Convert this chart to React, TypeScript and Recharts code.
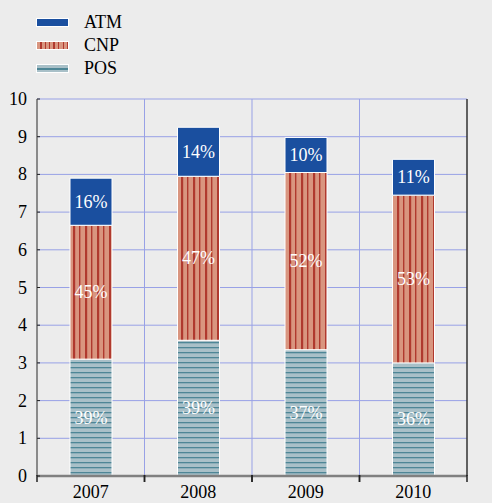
import { BarChart, Bar, XAxis, YAxis, CartesianGrid, LabelList } from "recharts";

const years = ["2007", "2008", "2009", "2010"];
const pos = [3.1, 3.6, 3.35, 3.0];
const cnp = [3.55, 4.35, 4.7, 4.45];
const atm = [1.25, 1.3, 0.93, 0.95];
const yTicks = [0, 1, 2, 3, 4, 5, 6, 7, 8, 9, 10];

const data = years.map((year, i) => ({ year, POS: pos[i], CNP: cnp[i], ATM: atm[i] }));
const totals = years.map((_, i) => pos[i] + cnp[i] + atm[i]);

const FONT = "'Liberation Serif', 'Times New Roman', serif";
const BG = "#ececec";
const GRID = "#98a1e6";

const series = [
  { key: "ATM", fill: "#1a4f9f", values: atm },
  { key: "CNP", fill: "url(#cnpFill)", values: cnp },
  { key: "POS", fill: "url(#posFill)", values: pos },
];

// percentage share of the stacked total, written inside each segment
const pctLabel = (values: number[]) => (props: any) => {
  const { x, y, width, height, index } = props;
  const pct = Math.round((values[index] / totals[index]) * 100);
  return (
    <text
      x={x + width / 2}
      y={y + height / 2 + 6}
      textAnchor="middle"
      fill="#fff"
      style={{ fontSize: 18, fontFamily: FONT }}
    >
      {pct}%
    </text>
  );
};

// year label plus the short marks at the category boundaries
const YearTick = (props: any) => {
  const { x, y, payload, bandSize } = props;
  const axisY = y - 8;
  const half = bandSize / 2;
  return (
    <g>
      <line x1={x - half} x2={x - half} y1={axisY - 1} y2={axisY + 6} stroke="#222" strokeWidth={1.5} />
      <line x1={x + half} x2={x + half} y1={axisY - 1} y2={axisY + 6} stroke="#222" strokeWidth={1.5} />
      <text x={x} y={axisY + 22} textAnchor="middle" fill="#000" style={{ fontSize: 18, fontFamily: FONT }}>
        {payload.value}
      </text>
    </g>
  );
};

// left value labels with the small inward tick on the axis
const LeftTick = (props: any) => {
  const { x, y, payload } = props;
  const axisX = x + 10;
  return (
    <g>
      <line x1={axisX} x2={axisX + 3} y1={y} y2={y} stroke="#222" strokeWidth={1} />
      <text x={x} y={y + 6} textAnchor="end" fill="#000" style={{ fontSize: 18, fontFamily: FONT }}>
        {payload.value}
      </text>
    </g>
  );
};

const RightTick = (props: any) => {
  const { x, y, payload } = props;
  return (
    <text x={x} y={y + 6} textAnchor="start" fill="#000" style={{ fontSize: 18, fontFamily: FONT }}>
      {payload.value}
    </text>
  );
};

function LegendSwatch({ name }: { name: string }) {
  const style: React.CSSProperties = {
    width: 33,
    height: 9,
    border: "1px solid #fff",
    boxSizing: "border-box",
  };
  if (name === "ATM") style.background = "#1a4f9f";
  if (name === "CNP")
    style.background =
      "repeating-linear-gradient(90deg, #d9957f 0px, #d9957f 3px, #b0392e 3px, #b0392e 4.5px)";
  if (name === "POS")
    style.background =
      "linear-gradient(180deg, #a9c0c8 0px, #a9c0c8 3px, #4e8696 3px, #4e8696 4.5px, #a9c0c8 4.5px)";
  return <div style={style} />;
}

export default function App() {
  const bandSize = (492 - 37 - 25) / years.length;
  return (
    <div style={{ position: "absolute", left: 0, top: 0, width: 492, height: 503, background: BG }}>
      <div style={{ position: "absolute", left: 36, top: 11, fontFamily: FONT, fontSize: 18 }}>
        {series.map((s) => (
          <div key={s.key} style={{ display: "flex", alignItems: "center", height: 23 }}>
            <LegendSwatch name={s.key} />
            <span style={{ marginLeft: 15 }}>{s.key}</span>
          </div>
        ))}
      </div>
      <BarChart
        width={492}
        height={503}
        data={data}
        margin={{ top: 99, right: 0, bottom: 0, left: 0 }}
        barSize={42}
      >
        <defs>
          <pattern id="cnpFill" patternUnits="userSpaceOnUse" width="12" height="10">
            <rect width="12" height="10" fill="#d9957f" />
            <rect x="1" width="2.2" height="10" fill="#b0392e" />
            <rect x="7" width="1.4" height="10" fill="#b0392e" />
          </pattern>
          <pattern id="posFill" patternUnits="userSpaceOnUse" width="10" height="5">
            <rect width="10" height="5" fill="#a9c0c8" />
            <rect y="2" width="10" height="1.3" fill="#4e8696" />
          </pattern>
        </defs>
        <CartesianGrid
          stroke={GRID}
          strokeWidth={1}
          yAxisId="left"
          verticalCoordinatesGenerator={({ offset }: any) =>
            [1, 2, 3].map((i) => offset.left + (offset.width * i) / years.length)
          }
        />
        <XAxis
          dataKey="year"
          height={27}
          tickSize={6}
          tickMargin={2}
          tickLine={false}
          axisLine={{ stroke: "#808080", strokeWidth: 2.5 }}
          tick={<YearTick bandSize={bandSize} />}
        />
        <YAxis
          yAxisId="left"
          width={37}
          domain={[0, 10]}
          ticks={yTicks}
          tickLine={false}
          tickSize={0}
          tickMargin={10}
          axisLine={{ stroke: "#8a8a8a", strokeWidth: 2 }}
          tick={<LeftTick />}
        />
        <YAxis
          yAxisId="right"
          orientation="right"
          width={25}
          domain={[0, 10]}
          ticks={yTicks}
          tickLine={false}
          tickSize={0}
          tickMargin={8}
          axisLine={{ stroke: "#333", strokeWidth: 1.5 }}
          tick={<RightTick />}
        />
        <Bar yAxisId="left" dataKey="POS" stackId="a" fill="url(#posFill)" stroke="#fff" strokeWidth={1} isAnimationActive={false}>
          <LabelList dataKey="POS" content={pctLabel(pos)} />
        </Bar>
        <Bar yAxisId="left" dataKey="CNP" stackId="a" fill="url(#cnpFill)" stroke="#fff" strokeWidth={1} isAnimationActive={false}>
          <LabelList dataKey="CNP" content={pctLabel(cnp)} />
        </Bar>
        <Bar yAxisId="left" dataKey="ATM" stackId="a" fill="#1a4f9f" stroke="#fff" strokeWidth={1} isAnimationActive={false}>
          <LabelList dataKey="ATM" content={pctLabel(atm)} />
        </Bar>
      </BarChart>
    </div>
  );
}
